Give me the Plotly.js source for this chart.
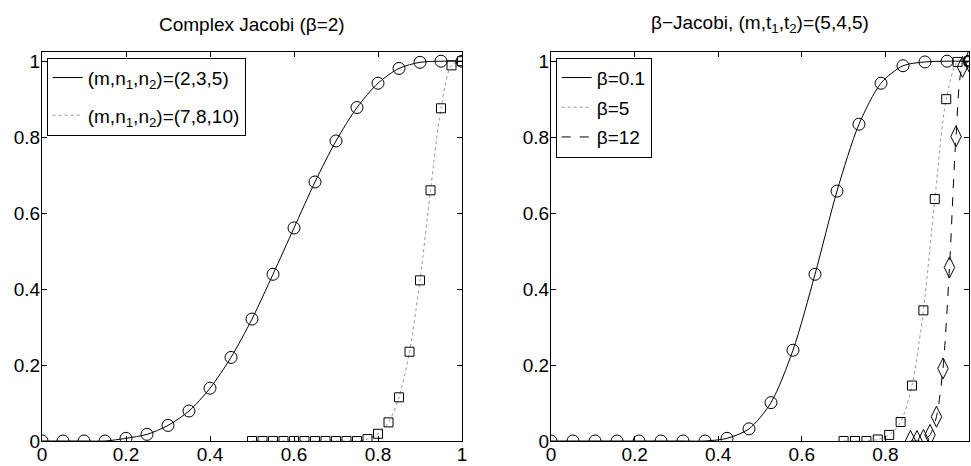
<!DOCTYPE html>
<html><head><meta charset="utf-8">
<script src="https://cdn.plot.ly/plotly-3.0.1.min.js"></script>
<style>html,body{margin:0;padding:0;background:#fff}</style>
</head><body><div id="chart" style="width:971px;height:466px"></div>
<script>
// ---- data ----
const leftCircleX = [0,0.05,0.1,0.15,0.2,0.25,0.3,0.35,0.4,0.45,0.5,0.55,0.6,0.65,0.7,0.75,0.8,0.85,0.9,0.95,1];
const leftCircleY = [0,0,0,0,0.007,0.0175,0.041,0.079,0.139,0.22,0.321,0.439,0.561,0.682,0.79,0.878,0.942,0.981,0.997,1,1];
const leftSquareX = [0.5,0.525,0.55,0.575,0.6,0.625,0.65,0.675,0.7,0.725,0.75,0.775,0.8,0.825,0.85,0.875,0.9,0.925,0.95,0.975,1];
const leftSquareY = [0,0,0,0,0,0,0,0,0,0,0,0.005,0.019,0.049,0.115,0.235,0.423,0.66,0.876,0.989,1];

const rightCircleX = [0,0.0526,0.1053,0.1579,0.2105,0.2632,0.3158,0.3684,0.4211,0.4737,0.5263,0.5789,0.6316,0.6842,0.7368,0.7895,0.8421,0.8947,0.9474,1];
const rightCircleY = [0,0,0,0,0,0,0,0,0.007,0.032,0.101,0.239,0.439,0.658,0.834,0.942,0.988,0.998,1,1];
const rightSquareX = [0.7,0.7273,0.7545,0.7818,0.8091,0.8364,0.8636,0.8909,0.9182,0.9455,0.9727,1];
const rightSquareY = [0,0,0,0.004,0.016,0.05,0.146,0.344,0.637,0.9,0.998,1];
const rightDiamondX = [0.86,0.8756,0.8911,0.9067,0.9222,0.9378,0.9533,0.9689,0.9844,1];
const rightDiamondY = [0,0,0.003,0.016,0.064,0.191,0.457,0.802,0.985,1];

const leftNames = ["(m,n<sub>1</sub>,n<sub>2</sub>)=(2,3,5)", "(m,n<sub>1</sub>,n<sub>2</sub>)=(7,8,10)"];
const rightNames = ["β=0.1", "β=5", "β=12"];
const leftTitle = "Complex Jacobi (β=2)";
const rightTitle = "β−Jacobi, (m,t<sub>1</sub>,t<sub>2</sub>)=(5,4,5)";
const tickVals = [0,0.2,0.4,0.6,0.8,1];
const tickText = ["0","0.2","0.4","0.6","0.8","1"];

// ---- styling ----
const FONT = "'Liberation Sans', Arial, sans-serif";
const W = 971, H = 466;

function lineTrace(x, y, name, dash, color, xa, ya, legend) {
  return {x, y, name, type:'scatter', mode:'lines', xaxis:xa, yaxis:ya,
    line:{color, width:1, dash, shape:'spline', smoothing:0.8},
    showlegend:true, legend, hoverinfo:'skip', legendgroup:name};
}
function markerTrace(x, y, symbol, size, xa, ya) {
  return {x, y, type:'scatter', mode:'markers', xaxis:xa, yaxis:ya, showlegend:false,
    marker:{symbol, size, color:'#000', line:{color:'#000', width:1}}, hoverinfo:'skip'};
}

const traces = [
  lineTrace(leftCircleX, leftCircleY, leftNames[0], 'solid', '#000', 'x', 'y', 'legend'),
  lineTrace(leftSquareX, leftSquareY, leftNames[1], 'dot', '#999', 'x', 'y', 'legend'),
  markerTrace(leftCircleX, leftCircleY, 'circle-open', 12, 'x', 'y'),
  markerTrace(leftSquareX, leftSquareY, 'square-open', 9, 'x', 'y'),
  lineTrace(rightCircleX, rightCircleY, rightNames[0], 'solid', '#000', 'x2', 'y2', 'legend2'),
  lineTrace(rightSquareX, rightSquareY, rightNames[1], 'dot', '#999', 'x2', 'y2', 'legend2'),
  lineTrace(rightDiamondX, rightDiamondY, rightNames[2], 'dash', '#000', 'x2', 'y2', 'legend2'),
  markerTrace(rightCircleX, rightCircleY, 'circle-open', 12, 'x2', 'y2'),
  markerTrace(rightSquareX, rightSquareY, 'square-open', 9, 'x2', 'y2'),
  markerTrace(rightDiamondX, rightDiamondY, 'diamond-tall-open', 15, 'x2', 'y2'),
];

function axis(domain, anchor, range, standoff) {
  return {domain, anchor, range, tickvals:tickVals, ticktext:tickText,
    ticks:'inside', ticklen:5, tickwidth:1, tickcolor:'#000',
    showline:true, linecolor:'#000', linewidth:1, mirror:'ticks',
    showgrid:false, zeroline:false, automargin:false, fixedrange:true,
    ticklabelstandoff:standoff,
    tickfont:{family:FONT, size:19, color:'#000'}};
}
const yTop = 51.7, yBot = 441;
const yDom = [1 - yBot/H, 1 - yTop/H];
const legendCommon = {xanchor:'left', yanchor:'top', bordercolor:'#000', borderwidth:1,
  bgcolor:'#fff', font:{family:FONT, size:19, color:'#000'}, itemwidth:30};

const layout = {
  width:W, height:H, margin:{l:0, r:0, t:0, b:0},
  paper_bgcolor:'#fff', plot_bgcolor:'#fff', showlegend:true,
  font:{family:FONT, color:'#000'},
  xaxis: axis([42/W, 462/W], 'y', [0,1], -4),
  yaxis: axis(yDom, 'x', [0,1.025], -3),
  xaxis2: axis([551/W, 969/W], 'y2', [0,1], -4),
  yaxis2: axis(yDom, 'x2', [0,1.025], -3),
  legend: Object.assign({x:46.7/W, y:1-57.7/H, tracegroupgap:10}, legendCommon),
  legend2: Object.assign({x:555.7/W, y:1-57.7/H, tracegroupgap:2}, legendCommon),
  annotations: [
    {text:leftTitle, xref:'paper', yref:'paper', x:252/W, y:1-24/H, xanchor:'center', yanchor:'middle',
     showarrow:false, font:{family:FONT, size:19, color:'#000'}},
    {text:rightTitle, xref:'paper', yref:'paper', x:760/W, y:1-24/H, xanchor:'center', yanchor:'middle',
     showarrow:false, font:{family:FONT, size:19, color:'#000'}}
  ]
};
Plotly.newPlot('chart', traces, layout, {displayModeBar:false, staticPlot:true});
</script></body></html>
